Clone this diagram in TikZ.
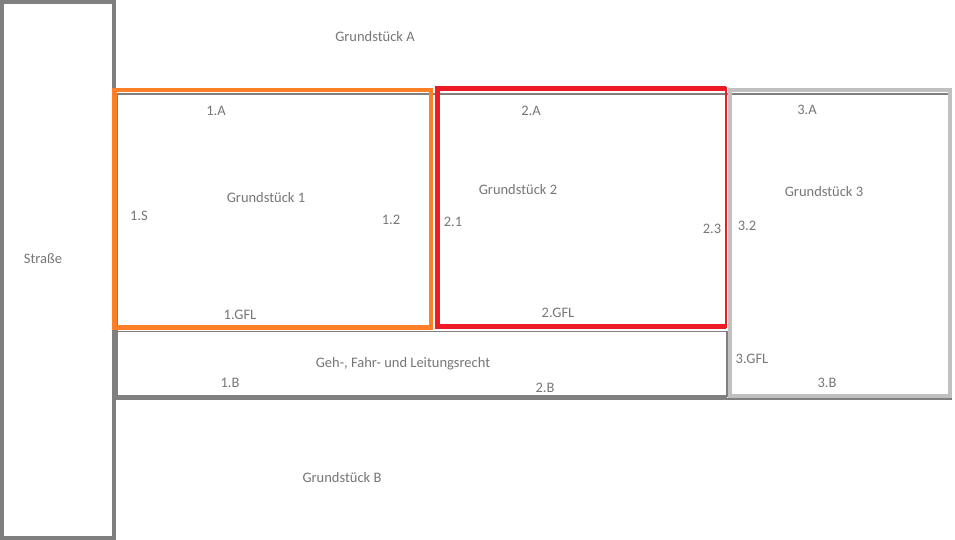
\documentclass[tikz,border=0pt]{standalone}
\usepackage{fontspec}
\setmainfont{Carlito}
\usetikzlibrary{positioning}
\definecolor{grenze}{RGB}{127,127,127}
\definecolor{hellgrau}{RGB}{192,192,192}
\definecolor{orangelot}{RGB}{253,127,39}
\definecolor{rotlot}{RGB}{237,28,36}
\definecolor{schrift}{RGB}{118,118,118}
\tikzset{
lbl/.style={text=schrift, inner sep=0pt, font=\fontsize{14.5}{17}\selectfont},
}
\begin{document}
\begin{tikzpicture}[x=1pt, y=-1pt]
\useasboundingbox (0,0) rectangle (955,540);
% Strasse
\draw[grenze, line width=4pt] (2,2) rectangle (114,538);
% Gesamtflaeche
\draw[grenze, line width=2pt] (117,93.8) rectangle (951,399);
\draw[grenze, line width=4pt] (115,397) -- (727,397);
\draw[grenze, line width=1.5pt] (117,331.5) -- (727,331.5) -- (727,397);
% Grundstueck 3
\draw[hellgrau, line width=4.5pt] (730,90) rectangle (950,396);
% Grundstueck 1
\draw[orangelot, line width=4.5pt] (114.5,90) rectangle (431,327.5);
% Grundstueck 2
\draw[rotlot, line width=5pt] (726,89) -- (437,89) -- (437,326) -- (726,326);
\draw[rotlot, line width=1.5pt] (726,87) -- (726,328);

\node[lbl] (strasse) at (43,259) {Straße};
\node[lbl] (gA) at (375,37) {Grundstück A};
\node[lbl] (gB) at (342,478) {Grundstück B};
\node[lbl] (g1) at (266,198) {Grundstück 1};
\node[lbl] (g2) at (518,190) {Grundstück 2};
\node[lbl] (g3) at (824,192) {Grundstück 3};
\node[lbl] (a1) at (216,111) {1.A};
\node[lbl] (a2) at (531,111) {2.A};
\node[lbl] (a3) at (807,110) {3.A};
\node[lbl] (s1) at (139,216) {1.S};
\node[lbl] (n12) at (391,220) {1.2};
\node[lbl] (n21) at (453,222) {2.1};
\node[lbl] (n23) at (712,229) {2.3};
\node[lbl] (n32) at (747,226) {3.2};
\node[lbl] (gfl1) at (240,315) {1.GFL};
\node[lbl] (gfl2) at (558,313) {2.GFL};
\node[lbl] (gfl3) at (752,359) {3.GFL};
\node[lbl] (geh) at (403,364) {Geh-, Fahr- und Leitungsrecht};
\node[lbl] (b1) at (230,383) {1.B};
\node[lbl] (b2) at (545,388) {2.B};
\node[lbl] (b3) at (827,383) {3.B};
\end{tikzpicture}
\end{document}
